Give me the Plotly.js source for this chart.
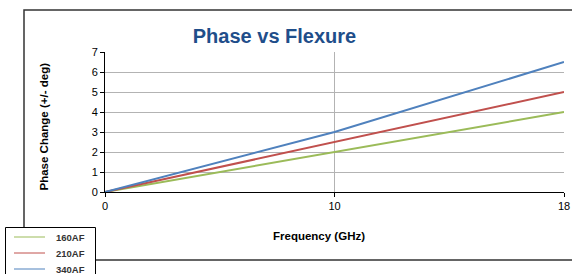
<!DOCTYPE html>
<html><head><meta charset="utf-8">
<script src="https://cdn.plot.ly/plotly-3.0.1.min.js"></script>
<style>html,body{margin:0;padding:0;background:#fff;}#chart{width:572px;height:274px;}</style>
</head><body><div id="chart"></div>
<script>
const frequency = ['0', '10', '18'];
const series160AF = [0, 2, 4];
const series210AF = [0, 2.5, 5];
const series340AF = [0, 3, 6.5];
const seriesNames = ['160AF', '210AF', '340AF'];
const seriesColors = ['#9BBB59', '#C0504D', '#4F81BD'];
const yTicks = [0, 1, 2, 3, 4, 5, 6, 7];
const chartTitle = 'Phase vs Flexure';
const xTitle = 'Frequency (GHz)';
const yTitle = 'Phase Change (+/- deg)';

const W = 572, H = 274;
const m = {l: 105, r: 8, t: 52, b: 82, autoexpand: false};
const pw = W - m.l - m.r, ph = H - m.t - m.b;
const px = x => (x - m.l) / pw;
const py = y => (H - m.b - y) / ph;

const data = [series160AF, series210AF, series340AF].map((v, i) => ({
  type: 'scatter', mode: 'lines', x: frequency, y: v, name: seriesNames[i],
  line: {color: seriesColors[i], width: 2}, showlegend: false
}));

// Legend box drawn like the original (overlapping the frame, clipped at the bottom)
const shapes = [
  {type: 'rect', xref: 'paper', yref: 'paper', x0: px(24), x1: px(580), y0: py(260), y1: py(10),
    line: {color: '#333', width: 1.5}, fillcolor: 'rgba(0,0,0,0)', layer: 'below'},
  {type: 'rect', xref: 'paper', yref: 'paper', x0: px(5.5), x1: px(95.5), y0: py(285), y1: py(227.5),
    line: {color: '#000', width: 1}, fillcolor: '#fff', layer: 'above'}
];
const annotations = [
  {text: '<b>' + xTitle + '</b>', xref: 'paper', yref: 'paper', x: px(318.5), y: py(236),
    xanchor: 'center', yanchor: 'middle', showarrow: false, font: {size: 11.5, color: '#000'}},
  {text: '<b>' + yTitle + '</b>', xref: 'paper', yref: 'paper', x: px(43), y: py(126.5),
    xanchor: 'center', yanchor: 'middle', showarrow: false, textangle: -90, font: {size: 11.5, color: '#000'}}
];
seriesNames.forEach((name, i) => {
  const yy = 237 + 16 * i;
  shapes.push({type: 'line', xref: 'paper', yref: 'paper', x0: px(14), x1: px(45), y0: py(yy), y1: py(yy),
    line: {color: seriesColors[i], width: 1}, layer: 'above'});
  annotations.push({text: '<b>' + name + '</b>', xref: 'paper', yref: 'paper', x: px(54), y: py(yy),
    xanchor: 'left', yanchor: 'middle', showarrow: false, font: {size: 9.5, color: '#333'}});
});

const layout = {
  width: W, height: H, margin: m,
  paper_bgcolor: '#fff', plot_bgcolor: '#fff',
  font: {family: 'Liberation Sans, Arial, sans-serif', color: '#000', size: 11},
  title: {text: '<b>' + chartTitle + '</b>', font: {size: 20, color: '#1f4e8a'},
    xref: 'container', yref: 'container', x: 274.5 / W, y: 1 - 36 / H, xanchor: 'center', yanchor: 'middle'},
  xaxis: {type: 'category', range: [0, 2], showgrid: true, gridcolor: '#b3b3b3', gridwidth: 1,
    showline: true, linecolor: '#000', linewidth: 1, ticks: 'outside', ticklen: 4, tickcolor: '#000',
    zeroline: false, tickfont: {size: 11}, automargin: false},
  yaxis: {range: [0, 7], tickvals: yTicks, showgrid: true, gridcolor: '#b3b3b3', gridwidth: 1,
    showline: true, linecolor: '#000', linewidth: 1, ticks: 'outside', ticklen: 4, tickcolor: '#000',
    zeroline: false, tickfont: {size: 11}, automargin: false},
  annotations: annotations,
  shapes: shapes,
  showlegend: false
};
Plotly.newPlot('chart', data, layout, {displayModeBar: false, staticPlot: true});
</script></body></html>
